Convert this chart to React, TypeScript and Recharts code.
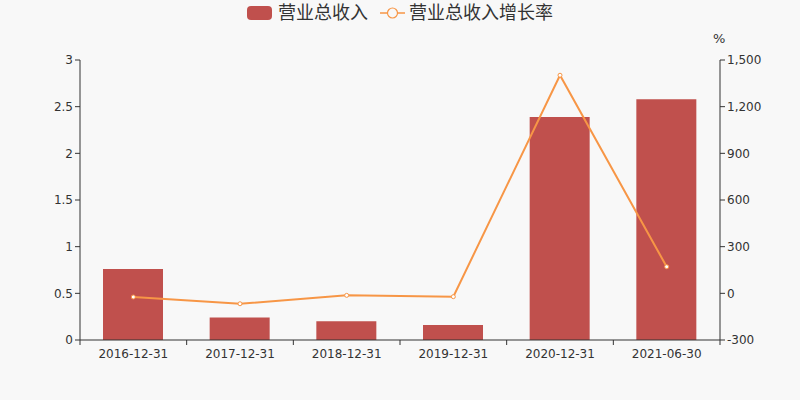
import React from 'react';
import { ComposedChart, Bar, Line, XAxis, YAxis, Legend } from 'recharts';

const periods = ['2016-12-31', '2017-12-31', '2018-12-31', '2019-12-31', '2020-12-31', '2021-06-30'];
const revenue = [0.76, 0.24, 0.2, 0.16, 2.39, 2.58];
const growth = [-23.5, -67, -13, -21.5, 1402, 171];
const leftTicks = [0, 0.5, 1, 1.5, 2, 2.5, 3];
const rightTicks = [-300, 0, 300, 600, 900, 1200, 1500];

const data = periods.map((p, i) => ({ name: p, rev: revenue[i], rate: growth[i] }));

const BAR = '#c0504d';
const LINE = '#f79646';
const BAND = 640 / periods.length;

const XTick = (props: any) => {
  const { x, y, payload, index } = props;
  return (
    <g>
      <line x1={x - BAND / 2} x2={x - BAND / 2} y1={y - 8} y2={y - 3} stroke="#333" />
      {index === periods.length - 1 && (
        <line x1={x + BAND / 2} x2={x + BAND / 2} y1={y - 8} y2={y - 3} stroke="#333" />
      )}
      <text x={x} y={y + 10} textAnchor="middle" fill="#333" fontSize={12}>
        {payload.value}
      </text>
    </g>
  );
};

const LegendBox = () => (
  <div style={{ display: 'flex', justifyContent: 'center', alignItems: 'center', fontSize: 18, lineHeight: '24px', color: '#333' }}>
    <svg width={25} height={14} style={{ marginRight: 6 }}>
      <rect x={0} y={0} width={25} height={14} rx={4} fill={BAR} />
    </svg>
    <span style={{ marginRight: 12 }}>营业总收入</span>
    <svg width={25} height={14} style={{ marginRight: 4 }}>
      <line x1={0} x2={25} y1={7} y2={7} stroke={LINE} strokeWidth={1.5} />
      <circle cx={12.5} cy={7} r={5} fill="#f8f8f8" stroke={LINE} strokeWidth={1.2} />
    </svg>
    <span>营业总收入增长率</span>
  </div>
);

export default function App() {
  return (
    <div style={{ position: 'absolute', left: 0, top: 0, width: 800, height: 400, background: '#f8f8f8', fontFamily: '"DejaVu Sans", "Noto Sans CJK SC", sans-serif' }}>
      <ComposedChart width={800} height={400} data={data} margin={{ top: 36, right: 0, bottom: 30, left: 0 }}>
        <Legend verticalAlign="top" align="center" content={<LegendBox />} wrapperStyle={{ top: 1, left: 0, width: 800 }} />
        <XAxis
          dataKey="name"
          axisLine={{ stroke: '#333' }}
          tickLine={false}
          tick={<XTick />}
          height={30}
          interval={0}
        />
        <YAxis
          yAxisId="left"
          width={80}
          domain={[0, 3]}
          ticks={leftTicks}
          axisLine={{ stroke: '#333' }}
          tickLine={{ stroke: '#333' }}
          tickSize={5}
          tick={{ fill: '#333', fontSize: 12 }}
          tickFormatter={(v: number) => String(v)}
        />
        <YAxis
          yAxisId="right"
          orientation="right"
          width={80}
          domain={[-300, 1500]}
          ticks={rightTicks}
          axisLine={{ stroke: '#333' }}
          tickLine={{ stroke: '#333' }}
          tickSize={5}
          tick={{ fill: '#333', fontSize: 12 }}
          tickFormatter={(v: number) => v.toLocaleString('en-US')}
          label={{ value: '%', position: 'insideTopLeft', dx: -12, dy: -31, fill: '#333', fontSize: 13 }}
        />
        <Bar yAxisId="left" dataKey="rev" fill={BAR} barSize={60} isAnimationActive={false} />
        <Line
          yAxisId="right"
          dataKey="rate"
          type="linear"
          stroke={LINE}
          strokeWidth={2}
          dot={{ r: 2, fill: '#fff', stroke: LINE, strokeWidth: 1 }}
          isAnimationActive={false}
        />
      </ComposedChart>
    </div>
  );
}
